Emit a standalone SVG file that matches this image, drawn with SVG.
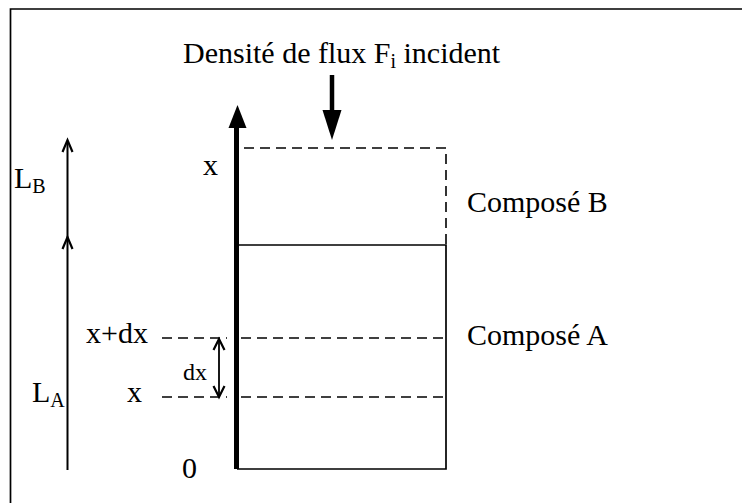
<svg xmlns="http://www.w3.org/2000/svg" width="742" height="503" viewBox="0 0 742 503">
<style>
text{font-family:"Liberation Serif","Times New Roman",serif;font-size:30px;fill:#000}
.sub{font-size:20px}
.thin{stroke:#000;stroke-width:1.7;fill:none}
.dash{stroke:#000;stroke-width:1.6;fill:none;stroke-dasharray:10 6}
.thick{stroke:#000;stroke-width:5;fill:none}
.chev{stroke:#000;stroke-width:2.2;fill:none}
</style>
<rect width="742" height="503" fill="#fff"/>
<g id="frame">
<path class="thin" d="M742 9 H10.5 V503"/>
</g>
<g id="title">
<text x="183" y="63">Densité de flux F<tspan class="sub" dy="5">i</tspan><tspan dy="-5"> incident</tspan></text>
</g>
<g id="composeB">
<path class="dash" d="M244 148 H446 V245"/>
<text x="467" y="212">Composé B</text>
</g>
<g id="composeA">
<path class="thin" d="M237 245 H446 V469 H237"/>
<text x="467" y="345">Composé A</text>
</g>
<g id="axis">
<path class="thick" d="M236.5 469 V125"/>
<path d="M228.5 128 L237.5 105 L246.5 128 Z" fill="#000"/>
<text x="203" y="175">x</text>
<text x="182" y="478">0</text>
</g>
<g id="slice">
<text x="86" y="343">x+dx</text>
<text x="127" y="402">x</text>
<text x="183" y="380" style="font-size:24px">dx</text>
</g>
<g id="LB">
<text x="14" y="188">L<tspan class="sub" dy="5">B</tspan></text>
</g>
<g id="LA">
<text x="32" y="402">L<tspan class="sub" dy="5">A</tspan></text>
</g>
<g id="connectors">
<path class="thin" d="M332 75 V115" style="stroke-width:4.5"/>
<path d="M322.5 110 L341.5 110 L332 140 Z" fill="#000"/>
<path class="thin" d="M67.5 470 V141" style="stroke-width:2"/>
<path class="chev" d="M62.5 152 L67.5 140 L72.5 152"/>
<path class="chev" d="M62.5 249 L67.5 237 L72.5 249"/>
<path class="dash" d="M162 338 H227 M241 338 H446"/>
<path class="dash" d="M162 397 H227 M241 397 H446"/>
<path class="thin" d="M219 340 V396" style="stroke-width:1.8"/>
<path class="chev" d="M213.5 350 L219 339 L224.5 350"/>
<path class="chev" d="M213.5 386 L219 397 L224.5 386"/>
</g>
</svg>
